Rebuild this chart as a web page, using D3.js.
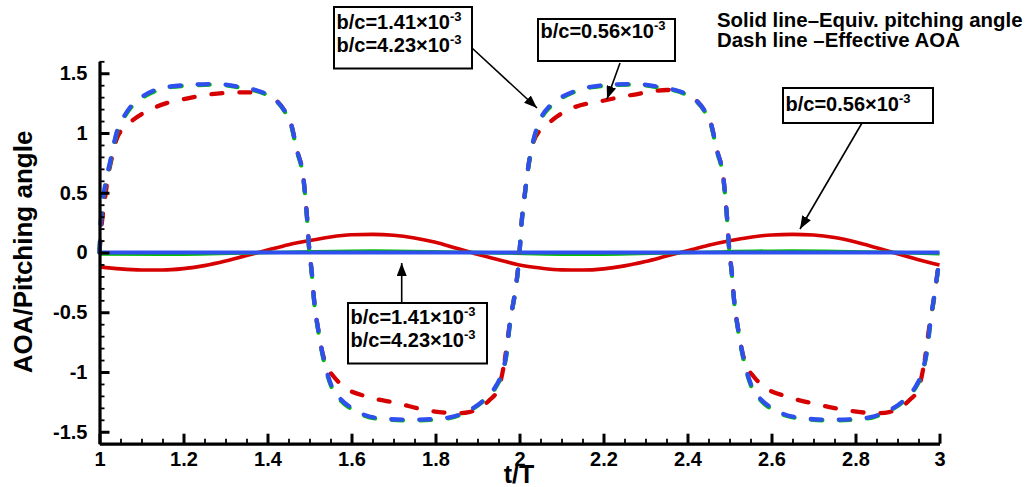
<!DOCTYPE html>
<html>
<head>
<meta charset="utf-8">
<script src="https://cdn.jsdelivr.net/npm/d3@7"></script>
<style>
  html, body { margin: 0; padding: 0; background: #fff; }
  svg { display: block; }
  text { font-family: "Liberation Sans", Arial, sans-serif; font-weight: bold; fill: #000; }
</style>
</head>
<body>
<svg id="chart" width="1034" height="487"></svg>
<script>
// ---------------- DATA ----------------
const xMajorTicks = [1, 1.2, 1.4, 1.6, 1.8, 2, 2.2, 2.4, 2.6, 2.8, 3];
const xTickLabels = ["1", "1.2", "1.4", "1.6", "1.8", "2", "2.2", "2.4", "2.6", "2.8", "3"];
const yMajorTicks = [-1.5, -1, -0.5, 0, 0.5, 1, 1.5];
const yTickLabels = ["-1.5", "-1", "-0.5", "0", "0.5", "1", "1.5"];

// Effective AOA (dashed), pairs [t/T, value]
const blueDash = [[1.000,0.00],[1.004,0.30],[1.012,0.53],[1.026,0.77],[1.042,1.02],[1.057,1.13],[1.074,1.22],[1.10,1.30],[1.133,1.36],[1.17,1.39],[1.205,1.40],[1.272,1.41],[1.343,1.38],[1.38,1.35],[1.415,1.29],[1.44,1.19],[1.455,1.09],[1.47,0.86],[1.486,0.61],[1.494,0.30],[1.50,0.00],[1.505,-0.15],[1.511,-0.40],[1.521,-0.65],[1.533,-0.88],[1.553,-1.12],[1.575,-1.23],[1.60,-1.30],[1.66,-1.385],[1.739,-1.40],[1.811,-1.39],[1.845,-1.37],[1.875,-1.33],[1.922,-1.21],[1.945,-1.11],[1.958,-1.01],[1.97,-0.82],[1.977,-0.59],[1.989,-0.34],[1.997,-0.12],[2.00,0.00],[2.005,0.25],[2.013,0.50],[2.021,0.72],[2.033,0.94],[2.049,1.11],[2.073,1.23],[2.10,1.30],[2.128,1.345],[2.20,1.40],[2.27,1.41],[2.342,1.38],[2.38,1.35],[2.415,1.29],[2.44,1.19],[2.455,1.09],[2.47,0.86],[2.486,0.61],[2.494,0.30],[2.50,0.00],[2.505,-0.15],[2.511,-0.40],[2.521,-0.65],[2.533,-0.88],[2.553,-1.12],[2.575,-1.23],[2.60,-1.30],[2.66,-1.38],[2.74,-1.40],[2.81,-1.39],[2.845,-1.37],[2.875,-1.33],[2.92,-1.22],[2.945,-1.11],[2.958,-1.01],[2.97,-0.82],[2.978,-0.59],[2.99,-0.30],[3.00,-0.05]];

const greenDash = [[1.000,0.00],[1.004,0.29],[1.012,0.52],[1.026,0.76],[1.042,1.01],[1.057,1.12],[1.074,1.21],[1.10,1.29],[1.133,1.35],[1.17,1.385],[1.205,1.395],[1.272,1.405],[1.343,1.375],[1.38,1.345],[1.415,1.285],[1.44,1.185],[1.455,1.08],[1.47,0.85],[1.486,0.60],[1.494,0.29],[1.50,-0.01],[1.505,-0.16],[1.511,-0.41],[1.521,-0.66],[1.533,-0.89],[1.553,-1.13],[1.575,-1.24],[1.60,-1.31],[1.66,-1.39],[1.739,-1.405],[1.811,-1.395],[1.845,-1.375],[1.875,-1.335],[1.922,-1.215],[1.945,-1.12],[1.958,-1.02],[1.97,-0.83],[1.977,-0.60],[1.989,-0.35],[1.997,-0.13],[2.00,-0.01],[2.005,0.24],[2.013,0.49],[2.021,0.71],[2.033,0.93],[2.049,1.10],[2.073,1.22],[2.10,1.29],[2.128,1.34],[2.20,1.395],[2.27,1.405],[2.342,1.375],[2.38,1.345],[2.415,1.285],[2.44,1.185],[2.455,1.08],[2.47,0.85],[2.486,0.60],[2.494,0.29],[2.50,-0.01],[2.505,-0.16],[2.511,-0.41],[2.521,-0.66],[2.533,-0.89],[2.553,-1.13],[2.575,-1.24],[2.60,-1.31],[2.66,-1.385],[2.74,-1.405],[2.81,-1.395],[2.845,-1.375],[2.875,-1.335],[2.92,-1.225],[2.945,-1.12],[2.958,-1.02],[2.97,-0.83],[2.978,-0.60],[2.99,-0.31],[3.00,-0.06]];

const redDash = [[1.000,0.00],[1.004,0.19],[1.012,0.42],[1.02,0.63],[1.03,0.80],[1.04,0.94],[1.06,1.05],[1.08,1.11],[1.136,1.22],[1.21,1.29],[1.28,1.33],[1.35,1.34],[1.39,1.33],[1.415,1.29],[1.44,1.19],[1.455,1.09],[1.47,0.86],[1.486,0.61],[1.494,0.30],[1.50,0.00],[1.505,-0.15],[1.511,-0.40],[1.521,-0.65],[1.531,-0.84],[1.541,-0.95],[1.558,-1.04],[1.577,-1.11],[1.641,-1.21],[1.708,-1.26],[1.779,-1.32],[1.85,-1.345],[1.88,-1.335],[1.906,-1.30],[1.93,-1.23],[1.946,-1.165],[1.954,-1.09],[1.965,-0.90],[1.977,-0.59],[1.989,-0.34],[1.997,-0.12],[2.00,0.00],[2.005,0.25],[2.013,0.50],[2.021,0.72],[2.033,0.92],[2.048,1.02],[2.065,1.07],[2.09,1.14],[2.127,1.21],[2.199,1.27],[2.27,1.32],[2.351,1.36],[2.39,1.34],[2.415,1.29],[2.44,1.19],[2.455,1.09],[2.47,0.86],[2.486,0.61],[2.494,0.30],[2.50,0.00],[2.505,-0.15],[2.511,-0.40],[2.521,-0.65],[2.531,-0.84],[2.541,-0.95],[2.558,-1.04],[2.577,-1.11],[2.641,-1.21],[2.708,-1.27],[2.779,-1.32],[2.85,-1.345],[2.88,-1.335],[2.906,-1.30],[2.93,-1.23],[2.946,-1.165],[2.954,-1.09],[2.965,-0.90],[2.977,-0.59],[2.989,-0.34],[2.997,-0.12],[3.00,-0.05]];
// t/T where the red dashed curve joins the blue one (start of each shared stretch)
const redJoinT = [1.39, 1.965, 2.39, 2.965];

// Equivalent pitching angle (solid)
const redSolid = [[1.00,-0.12],[1.05,-0.137],[1.10,-0.146],[1.15,-0.147],[1.20,-0.135],[1.25,-0.11],[1.30,-0.072],[1.35,-0.025],[1.40,0.02],[1.45,0.065],[1.50,0.10],[1.55,0.13],[1.60,0.148],[1.65,0.152],[1.70,0.145],[1.75,0.122],[1.80,0.085],[1.85,0.035],[1.90,-0.015],[1.95,-0.06],[2.00,-0.105],[2.05,-0.13],[2.10,-0.145],[2.15,-0.147],[2.20,-0.137],[2.25,-0.112],[2.30,-0.075],[2.35,-0.03],[2.40,0.015],[2.45,0.06],[2.50,0.098],[2.55,0.128],[2.60,0.147],[2.65,0.152],[2.70,0.146],[2.75,0.125],[2.80,0.088],[2.85,0.04],[2.90,-0.01],[2.95,-0.06],[3.00,-0.105]];
const greenSolid = [[1.00,-0.012],[1.15,-0.015],[1.40,0.0],[1.65,0.014],[1.90,0.0],[2.15,-0.015],[2.40,0.0],[2.65,0.014],[2.90,0.0],[3.00,-0.01]];
const blueSolid = [[1.00,0.0],[1.50,0.0],[2.00,0.0],[2.50,0.0],[3.00,0.0]];

const legendLines = ["Solid line\u2013Equiv. pitching angle", "Dash line \u2013Effective AOA"];

// ---------------- CHART ----------------
const svg = d3.select("#chart");
svg.append("rect").attr("width", 1034).attr("height", 487).attr("fill", "#fff");

const x = d3.scaleLinear().domain([1, 3]).range([99.5, 939.5]);
const y = d3.scaleLinear().domain([-1.6, 1.6]).range([443.7, 61.3]);

const RED = "#d60000", GREEN = "#00c000", BLUE = "#2f50ee";
const DASH = "11,17";

const line = d3.line().x(d => x(d[0])).y(d => y(d[1])).curve(d3.curveMonotoneX);

const plot = svg.append("g");
function drawLine(data, color, width, dashed, offset) {
  const p = plot.append("path").datum(data)
    .attr("d", line).attr("fill", "none")
    .attr("stroke", color).attr("stroke-width", width)
    .attr("stroke-linejoin", "round");
  if (dashed) p.attr("stroke-dasharray", DASH).attr("stroke-linecap", "round")
    .attr("stroke-dashoffset", offset || 0);
  return p;
}
function pathLength(data) {
  const tmp = svg.append("path").attr("d", line(data)).attr("fill", "none");
  const L = tmp.node().getTotalLength();
  tmp.remove();
  return L;
}

drawLine(redSolid, RED, 3.6, false);
drawLine(greenSolid, GREEN, 3.4, false);
drawLine(blueSolid, BLUE, 3.8, false);

// red dashed drawn piecewise so its dashes line up with the blue ones where the curves coincide
const bounds = [1.0, ...redJoinT, 3.0];
for (let i = 0; i < bounds.length - 1; i++) {
  const t0 = bounds[i], t1 = bounds[i + 1];
  const seg = redDash.filter(d => d[0] >= t0 - 1e-9 && d[0] <= t1 + 1e-9);
  let off = 0;
  if (i > 0) {
    const startPt = seg[0];
    const bluePart = blueDash.filter(d => d[0] < t0).concat([startPt]);
    off = pathLength(bluePart);
  }
  drawLine(seg, RED, 4.3, true, off);
}
drawLine(greenDash, GREEN, 4.3, true);
drawLine(blueDash, BLUE, 4.3, true);

// Axes
const xMinor = d3.range(1, 3.0001, 0.05).map(v => +v.toFixed(2)).filter(v => !xMajorTicks.some(m => Math.abs(m - v) < 1e-6));
const yMinor = d3.range(-1.6, 1.6001, 0.1).map(v => +v.toFixed(2)).filter(v => !yMajorTicks.some(m => Math.abs(m - v) < 1e-6));

const gx = svg.append("g").attr("transform", `translate(0,${y(-1.6)})`);
gx.call(d3.axisBottom(x).tickValues(xMinor).tickSizeInner(-5).tickSizeOuter(0).tickFormat(""));
gx.selectAll(".tick line").attr("stroke-width", 1.8);
gx.select(".domain").remove();
const gx2 = svg.append("g").attr("transform", `translate(0,${y(-1.6)})`);
gx2.call(d3.axisBottom(x).tickValues(xMajorTicks).tickSizeInner(-10).tickSizeOuter(0).tickPadding(8)
  .tickFormat((d, i) => xTickLabels[i]));
gx2.selectAll(".tick line").attr("stroke-width", 3);
gx2.select(".domain").attr("stroke-width", 3.2);
gx2.selectAll("text").attr("font-size", 20).attr("font-family", '"Liberation Sans", Arial, sans-serif').attr("font-weight", "bold");

const gy = svg.append("g").attr("transform", `translate(${x(1)},0)`);
gy.call(d3.axisLeft(y).tickValues(yMinor).tickSizeInner(-5).tickSizeOuter(0).tickFormat(""));
gy.selectAll(".tick line").attr("stroke-width", 1.8);
gy.select(".domain").remove();
const gy2 = svg.append("g").attr("transform", `translate(${x(1)},0)`);
gy2.call(d3.axisLeft(y).tickValues(yMajorTicks).tickSizeInner(-10).tickSizeOuter(0).tickPadding(12)
  .tickFormat((d, i) => yTickLabels[i]));
gy2.selectAll(".tick line").attr("stroke-width", 3);
gy2.select(".domain").attr("stroke-width", 3.2);
gy2.selectAll("text").attr("font-size", 20).attr("font-family", '"Liberation Sans", Arial, sans-serif').attr("font-weight", "bold");

// Axis titles
svg.append("text").attr("x", 519).attr("y", 483).attr("text-anchor", "middle")
  .attr("font-size", 25).text("t/T");
svg.append("text").attr("transform", "translate(32,252) rotate(-90)").attr("text-anchor", "middle")
  .attr("font-size", 26).text("AOA/Pitching angle");

// Legend text
legendLines.forEach((s, i) => {
  svg.append("text").attr("x", 717).attr("y", 27 + i * 20).attr("font-size", 20.4).text(s);
});

// Annotations
const defs = svg.append("defs");
defs.append("marker").attr("id", "arr").attr("viewBox", "0 0 13 10")
  .attr("refX", 13).attr("refY", 5).attr("markerWidth", 13).attr("markerHeight", 10)
  .attr("markerUnits", "userSpaceOnUse").attr("orient", "auto")
  .append("path").attr("d", "M0,0 L13,5 L0,10 Z").attr("fill", "#000");

function bcLine(g, tx, ty, val) {
  const t = g.append("text").attr("x", tx).attr("y", ty).attr("font-size", 20);
  t.append("tspan").text("b/c=" + val + "\u00d710");
  t.append("tspan").attr("font-size", 13).attr("dy", -8).text("-3");
}
function box(x0, y0, x1, y1, vals, lineY) {
  const g = svg.append("g");
  g.append("rect").attr("x", x0).attr("y", y0).attr("width", x1 - x0).attr("height", y1 - y0)
    .attr("fill", "#fff").attr("stroke", "#000").attr("stroke-width", 2);
  vals.forEach((v, i) => bcLine(g, x0 + 2.5, lineY[i], v));
}
function arrow(x0, y0, x1, y1) {
  svg.append("line").attr("x1", x0).attr("y1", y0).attr("x2", x1).attr("y2", y1)
    .attr("stroke", "#000").attr("stroke-width", 1.6).attr("marker-end", "url(#arr)");
}

box(334, 7, 472, 68.5, ["1.41", "4.23"], [28.5, 52]);
arrow(472, 48, 537, 108);
box(538, 19, 675, 61, ["0.56"], [38]);
arrow(620, 63, 607, 99);
box(783, 88, 933, 123, ["0.56"], [111]);
arrow(862, 123, 800, 229);
box(348, 303, 487, 363.5, ["1.41", "4.23"], [324, 347]);
arrow(401.7, 303, 401.7, 263);
</script>
</body>
</html>
